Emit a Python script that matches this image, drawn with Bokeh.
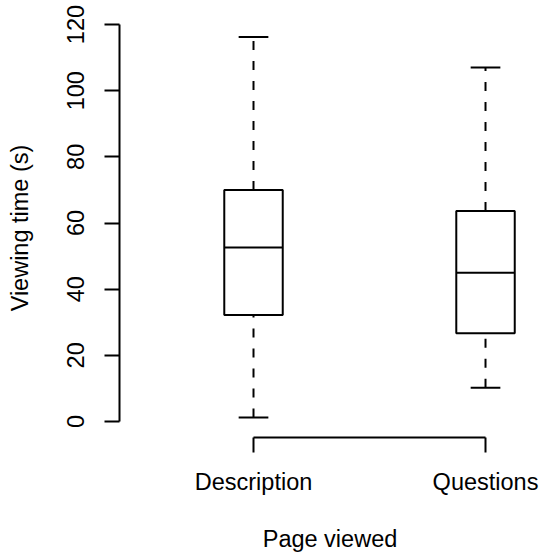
from bokeh.plotting import figure
from bokeh.models import Range1d, FixedTicker, ColumnDataSource
from bokeh.embed import file_html
from bokeh.resources import INLINE

# ---- data ----
categories = ["Description", "Questions"]
lower_whisker = [1.2, 10.2]
q1 = [32.2, 26.7]
median = [52.6, 45.0]
q3 = [70.0, 63.6]
upper_whisker = [116.2, 107.0]
y_ticks = [0, 20, 40, 60, 80, 100, 120]

positions = [i + 1 for i in range(len(categories))]
box_half = 0.126
cap_half = 0.064

FONT = "Liberation Sans"
FS = "23.5px"

p = figure(
    frame_width=421, frame_height=419,
    min_border_left=119, min_border_right=0, min_border_top=18, min_border_bottom=116,
    x_range=Range1d(0.4224, 2.237), y_range=Range1d(-4.84, 121.82),
    output_backend="svg", toolbar_location=None,
    background_fill_color="white", border_fill_color="white",
)
p.outline_line_color = None
p.xgrid.visible = False
p.ygrid.visible = False

src = ColumnDataSource(dict(
    x=positions,
    left=[x - box_half for x in positions],
    right=[x + box_half for x in positions],
    cl=[x - cap_half for x in positions],
    cr=[x + cap_half for x in positions],
    lo=lower_whisker, q1=q1, med=median, q3=q3, hi=upper_whisker,
))

LW = 2
# whiskers (dashed)
p.segment(x0="x", y0="lo", x1="x", y1="q1", source=src, line_color="black",
          line_width=LW, line_dash="9 11")
p.segment(x0="x", y0="q3", x1="x", y1="hi", source=src, line_color="black",
          line_width=LW, line_dash="9 11")
# caps
p.segment(x0="cl", y0="lo", x1="cr", y1="lo", source=src, line_color="black", line_width=LW)
p.segment(x0="cl", y0="hi", x1="cr", y1="hi", source=src, line_color="black", line_width=LW)
# boxes
p.quad(left="left", right="right", bottom="q1", top="q3", source=src,
       fill_color="white", line_color="black", line_width=LW)
# medians
p.segment(x0="left", y0="med", x1="right", y1="med", source=src, line_color="black", line_width=LW)

# ---- axes ----
xa = p.xaxis[0]
xa.ticker = FixedTicker(ticks=positions)
xa.major_label_overrides = {pos: c for pos, c in zip(positions, categories)}
xa.bounds = (positions[0], positions[-1])
xa.axis_label = "Page viewed"
xa.minor_tick_line_color = None
xa.major_tick_in = 0
xa.major_tick_out = 15
xa.major_label_standoff = 16
xa.axis_label_standoff = 28

ya = p.yaxis[0]
ya.ticker = FixedTicker(ticks=y_ticks)
ya.bounds = (y_ticks[0], y_ticks[-1])
ya.axis_label = "Viewing time (s)"
ya.minor_tick_line_color = None
ya.major_tick_in = 0
ya.major_tick_out = 15
ya.major_label_orientation = "vertical"
ya.major_label_standoff = 20
ya.axis_label_standoff = 32

for ax in (xa, ya):
    ax.axis_line_width = LW
    ax.major_tick_line_width = LW
    ax.axis_line_color = "black"
    ax.major_tick_line_color = "black"
    ax.major_label_text_font = FONT
    ax.major_label_text_font_size = FS
    ax.major_label_text_color = "black"
    ax.axis_label_text_font = FONT
    ax.axis_label_text_font_size = FS
    ax.axis_label_text_font_style = "normal"
    ax.axis_label_text_color = "black"

open("out.html", "w").write(file_html(p, INLINE))
